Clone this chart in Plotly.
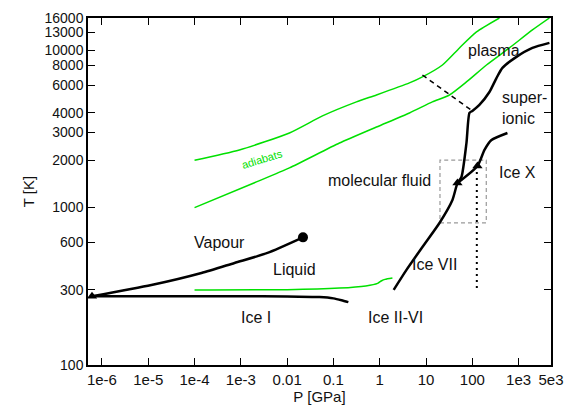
import numpy as np
import plotly.graph_objects as go

# ---- data (P in GPa, T in K) ----
adiabat_hi_P = [1e-4, 9.3e-4, 0.0112, 0.058, 0.314, 0.85, 4.38, 8.36, 22.6, 52.7, 123, 385]
adiabat_hi_T = [2000, 2323, 2978, 3820, 4690, 5190, 6190, 6760, 8050, 10330, 13060, 16000]

adiabat_lo_P = [1e-4, 2.17e-3, 0.0112, 0.135, 0.85, 4.38, 13.7, 32, 74.6, 202, 632, 1986, 4624]
adiabat_lo_T = [1000, 1455, 1786, 2570, 3250, 3990, 4690, 5190, 6280, 8050, 10330, 13430, 16000]

liquid_isentrope_P = [1e-4, 0.01, 0.135, 0.5, 0.9, 1.1, 1.3, 1.88]
liquid_isentrope_T = [300, 301, 308, 318, 330, 343, 350, 357]

vapour_P = [6.1e-7, 1.17e-5, 1.41e-4, 7.3e-4, 3.76e-3, 0.022]
vapour_T = [273, 322, 384, 445, 515, 647]

iceI_P = [6.1e-7, 1e-3, 0.01, 0.05, 0.1, 0.15, 0.21]
iceI_T = [273, 273, 272.5, 270, 265, 258, 251]

melt_P = [2.0, 3.78, 8.36, 19.5, 37.2, 47.7, 58.2, 74.6, 86.7, 100, 142, 234, 332, 447, 897, 1986, 4624]
melt_T = [300, 402, 562, 798, 1117, 1432, 1563, 2570, 3990, 4110, 4490, 5420, 6650, 7710, 9060, 10330, 11120]

iceX_P = [47.7, 129, 183, 259, 573]
iceX_T = [1432, 1837, 2324, 2685, 2978]

plasma_P = [8.36, 100]
plasma_T = [6950, 4110]

dotted_P = [125, 125]
dotted_T = [1840, 300]

box_P = [20, 200, 200, 20, 20]
box_T = [800, 800, 2000, 2000, 800]

triangle_P = [6.1e-7, 47.7, 129]
triangle_T = [273, 1432, 1837]

critical_P = [0.022]
critical_T = [647]

x_tickvals = [1e-6, 1e-5, 1e-4, 1e-3, 0.01, 0.1, 1, 10, 100, 1e3, 5e3]
x_ticktext = ["1e-6", "1e-5", "1e-4", "1e-3", "0.01", "0.1", "1", "10", "100", "1e3", "5e3"]
y_tickvals = [100, 300, 600, 1000, 2000, 3000, 4000, 6000, 8000, 10000, 13000, 16000]
y_ticktext = [str(v) for v in y_tickvals]

labels = [
    ("Vapour", 3.5e-4, 604),
    ("Liquid", 0.0144, 402),
    ("Ice I", 2.17e-3, 199),
    ("Ice II-VI", 2.18, 199),
    ("Ice VII", 15.2, 432),
    ("molecular fluid", 0.99, 1496),
    ("Ice X", 942, 1660),
    ("plasma", 300, 10000),
]

GREEN = "#00e000"
BLACK = "#000000"

fig = go.Figure()

def line(P, T, color, width, dash="solid", shape="spline"):
    fig.add_trace(go.Scatter(x=P, y=T, mode="lines",
                             line=dict(color=color, width=width, dash=dash, shape=shape,
                                       smoothing=0.6 if shape == "spline" else None),
                             hoverinfo="skip", showlegend=False))

line(adiabat_hi_P, adiabat_hi_T, GREEN, 1.5)
line(adiabat_lo_P, adiabat_lo_T, GREEN, 1.5)
line(liquid_isentrope_P, liquid_isentrope_T, GREEN, 1.5)
line(box_P, box_T, "#999999", 1.2, dash="4px,3px", shape="linear")
line(vapour_P, vapour_T, BLACK, 2.5)
line(iceI_P, iceI_T, BLACK, 2.5)
line(melt_P, melt_T, BLACK, 2.5)
line(iceX_P, iceX_T, BLACK, 2.5)
line(plasma_P, plasma_T, BLACK, 1.5, dash="5px,4px", shape="linear")
line(dotted_P, dotted_T, BLACK, 2, dash="2px,4px", shape="linear")

fig.add_trace(go.Scatter(x=triangle_P, y=triangle_T, mode="markers",
                         marker=dict(symbol="triangle-up", size=9, color=BLACK),
                         hoverinfo="skip", showlegend=False))
fig.add_trace(go.Scatter(x=critical_P, y=critical_T, mode="markers",
                         marker=dict(symbol="circle", size=10, color=BLACK),
                         hoverinfo="skip", showlegend=False))

FONT = "Liberation Sans, Arial, sans-serif"
TXT = "#111111"
ann = []
for text, p, t in labels:
    ann.append(dict(x=np.log10(p), y=np.log10(t), xref="x", yref="y", text=text,
                    showarrow=False, font=dict(family=FONT, size=16, color=TXT)))
ann.append(dict(x=np.log10(400), y=np.log10(4300), xref="x", yref="y",
                text="super-<br>ionic", align="left", xanchor="left",
                showarrow=False, font=dict(family=FONT, size=16, color=TXT)))
ann.append(dict(x=np.log10(2.93e-3), y=np.log10(2037), xref="x", yref="y",
                text="adiabats", textangle=-17, showarrow=False,
                font=dict(family=FONT, size=11, color=GREEN)))

fig.update_layout(
    width=568, height=412,
    margin=dict(l=88, r=17, t=18, b=47),
    paper_bgcolor="white", plot_bgcolor="white",
    font=dict(family=FONT, size=15, color=TXT),
    annotations=ann,
)
fig.update_xaxes(type="log", range=[np.log10(5e-7), np.log10(5e3)],
                 tickvals=x_tickvals, ticktext=x_ticktext,
                 tickfont=dict(size=15), automargin=False,
                 ticks="inside", ticklen=7, tickwidth=1.3, tickcolor="black",
                 showline=True, linecolor="black", linewidth=1.5, mirror="ticks",
                 showgrid=False, zeroline=False,
                 title=dict(text="P [GPa]", standoff=2, font=dict(size=15)))
fig.update_yaxes(type="log", range=[2, np.log10(16000)],
                 tickvals=y_tickvals, ticktext=y_ticktext,
                 tickfont=dict(size=14), automargin=False,
                 ticks="inside", ticklen=7, tickwidth=1.3, tickcolor="black",
                 showline=True, linecolor="black", linewidth=1.5, mirror="ticks",
                 showgrid=False, zeroline=False,
                 title=dict(text="T [K]", standoff=6, font=dict(size=15)))

fig.write_html("out.html")
